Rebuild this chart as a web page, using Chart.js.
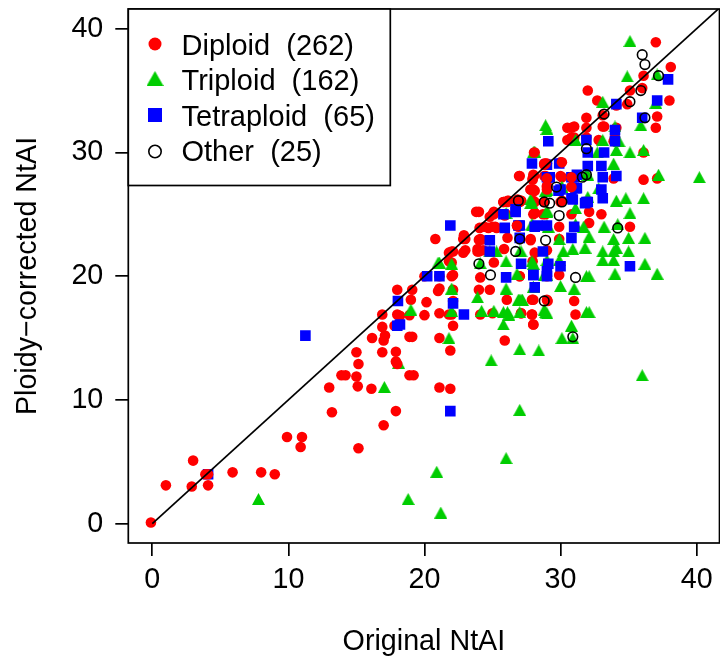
<!DOCTYPE html>
<html lang="en">
<head>
<meta charset="UTF-8">
<title>Ploidy-corrected NtAI</title>
<script src="https://cdn.jsdelivr.net/npm/chart.js"></script>
<style>
  html, body { margin: 0; padding: 0; background: #fff; }
  canvas { display: block; }
</style>
</head>
<body>
<canvas id="chart" width="720" height="656"></canvas>
<script>
// values, [original, corrected]
const diploid = [
  [-0.1,0.1],[1,3.1],[3,5.1],[2.9,3],[4.1,3.1],[5.9,4.15],[8,4.15],[9,4],[9.9,7],[11,7],[10.9,6.2],[15.15,6.1],
  [13.2,9],[13,11],[17,7.95],[17.9,9.1],[16.1,10.9],[15.1,11.1],[15,11.9],[13.9,12],[14.2,12],[15.15,12.9],[15,13.85],
  [16.9,13.85],[17.9,13.9],[18.9,12],[19.2,12],[16.15,15],[17,14.8],[17.1,15.2],[18.9,15.1],[19.1,15.1],[16.9,15.9],
  [17.8,16],[16.9,16.9],[18,16.9],[18.2,16.8],[18.9,16.85],[20,16.85],[19,18.1],[20.15,17.9],[18,18.9],[19.1,18.9],
  [21.1,11],[21.9,10.9],[25.9,14.8],[23.8,25.2],[20.8,23],[22.9,23.3],[23,23],[24,22.95],[24.1,23],[24,22],[23.9,22],
  [22,22],[21.8,21.9],[23,22.1],[22.85,21.9],[25.85,22.2],[25.1,21.1],[26.1,23.1],[27.8,22.9],[28.1,21.9],[22,21.1],
  [21.8,21.2],[20,20],[21.1,20],[22,20],[22.1,20.1],[24.1,19.9],[27,20],[21.1,19],[21,18.8],[22.1,18.9],[24,18.9],
  [24.8,18.9],[22.1,18],[26.05,18.1],[28,18.1],[29.05,18],[21.1,17],[21.8,16.9],[22,16.9],[24.1,16.9],[25,17],[27.1,17],
  [27.9,16.9],[22.1,16],[28,16.1],[21.1,15],[21.9,14],[25,25],[25.1,25],[25.8,26],[26.1,26],[26,25],[25.9,24.9],
  [26.9,26.1],[26.9,26],[28,27],[28.1,26.9],[28.1,25.1],[28.8,26],[29,27.3],[26.9,24],[24.05,23.9],[25,24],[25.2,24],
  [25.3,23.9],[24.7,23.9],[37,38.9],[38.1,36.9],[36.1,36.2],[35.1,35],[36,35.2],[32,35],[32.7,34.2],[34.9,33.9],
  [38,34.2],[34.1,33.8],[33.1,33],[37.1,32.9],[37,32],[31.9,32.8],[31,32.1],[30.8,32],[31.9,32],[33.1,32.1],[33.2,32.1],
  [34.1,32],[30.8,31.2],[31,31.2],[31.9,31.2],[32.8,31],[34,31.2],[33.9,30.9],[28.1,30],[36.1,30],[29,29.1],[28.8,29.1],
  [30,29.2],[28.8,28.1],[29,28],[30.1,28],[30.8,28],[29,27.2],[30.8,27.2],[28,26.9],[33.9,27.9],[36.1,27.8],[37.1,27.9],
  [27,28.1],[28,28.2],[27.95,27.9],[30,28.1],[27.8,27],[27,26],[27.1,26.1],[30.1,26.1],[28,25],[28.1,25.1],[28.7,25],
  [28.9,25],[30.8,25],[32.1,25.2],[33,25],[26.8,24.1],[29.9,24],[32.1,24.3],[35.1,24],[27.8,23],[29.9,23],[29,22.1],
  [27.95,21.2],[27,20],[29,20],[29.9,20.1],[27.9,18.1],[29,18.1],[31,18],[27.1,17],[27.9,16.9],[31.1,16.9],[28,16.1],
  [26.95,28.1],[28.05,28.1],[28.9,28.1],[30.5,32],[30.5,31],[25.8,26],[26.1,26.1],[26.85,26.2],[27.1,26.1],[28,26.1],
  [28.1,26],[24,25.2],[25.1,25.2],[24.8,24.8],[24.4,24],[24.2,22.95],[23.9,22.2],[24.3,22.1],[26.2,26.1],[22.85,23],[22.1,22]
];
// the reds that sit over the other marks in the picture
const diploidOver = [
  [3.9,4],[4.1,4],[18,12.9],[17.9,13.1],[28.05,30],[28.9,29.1],[28.8,29],[30.1,29.2],[29.05,27.2],[29,27],[27.8,27],
  [28.05,26.9],[27.95,27.8],[29,27.9],[30.8,28],[30.8,27.2],[26.8,24.1],[28.8,26],[30,26]
];
const triploid = [
  [7.8,2],[18.8,2],[17.05,11.05],[18.1,13],[19,17.3],[20.9,4.2],[21.2,0.9],[26,5.3],[27,9.2],[36,12],[24.9,13.2],
  [28.4,14],[35.1,39],[34.9,36.15],[37.1,36.3],[33.1,34.1],[35.9,32.2],[37,34],[28.9,32.2],[29,31.9],[34,32.1],
  [31.1,31],[33.1,31],[34.3,30.9],[28,30],[34.1,30.2],[35.1,30],[36.1,30.2],[32.7,30],[33.9,29.1],[32,28.2],[31.9,28.3],
  [37.2,28.2],[40.2,28],[32.8,27.1],[30.1,27.2],[29,27],[32,26.4],[34.1,26.1],[34.8,26.3],[36.1,26.3],[28.1,30],
  [31.1,25.5],[35.1,25.1],[27.8,25.9],[29,25.3],[27.9,24.2],[29,24.1],[29.1,24],[31.1,24.2],[31.7,24],[33.2,24],
  [34.2,24.2],[32.1,23.2],[33.9,23],[35,23.1],[36.2,23.1],[29.9,23],[31.8,22.3],[30.9,22.2],[30.2,22],[34.1,22.3],
  [33.1,22],[35,22],[33.9,22],[27,22],[29,21.3],[29.9,21.3],[28,21],[33.1,21.3],[33.9,21.3],[36.2,21],[34,20.2],
  [37.1,20.2],[31.9,20],[32.1,20],[28.8,20.1],[30,19.2],[28,19.1],[31,19],[27,18.1],[27.1,18.1],[27,17.1],[28.9,17.1],
  [29,17],[31.9,17.1],[32.1,17.1],[26.2,16.9],[30.8,16],[30.1,15],[30.9,15],[27,14.1],[21,21.1],[21.1,21.1],[22,21],
  [24.8,22],[25.3,22],[26,21.2],[27.1,22],[27.9,21.2],[24.1,21.05],[26.8,20.2],[29,20.1],[22,19],[26,19],[28,19.1],
  [23.9,18.3],[26.9,18.1],[27.2,18.1],[22,17.2],[24.2,17.2],[25.1,17.2],[25.8,17.1],[26.1,17.1],[28.8,17.3],[25.8,16.1],
  [21.8,15],[27.8,26.2],[29,25.2],[27.9,24.1],[26,25.1],[28.9,26.9],[30.1,27.2],[27.9,25.9],[28.1,30]
];
const tetraploid = [
  [4.1,4],[11.25,15.2],[18.05,18],[18,16],[18.2,16.1],[21.9,9.1],[37.9,35.9],[37.1,34.2],[34.1,33.9],[36,32.8],[29.1,30.9],
  [34,31.8],[31.9,31],[34,30.9],[32,30],[33.2,30],[27.9,29.1],[29.9,29.1],[29,29],[32,28.9],[33,28.9],[29.2,28],[30.8,28],
  [31,28],[34.1,28.1],[33.1,28],[31.1,27.1],[29.85,26.9],[33,27],[30.8,26.3],[33.1,26.3],[31.9,26],[31.2,28.2],[29,28],
  [31.2,27.1],[30.9,26.2],[32,26],[31.8,25.9],[26.7,25.2],[27,24.1],[28.1,24],[29,24.1],[31,24],[30.8,23.1],[27,23.1],
  [28.7,22],[27.1,21],[29.1,21],[30,20.8],[29,20.4],[29,20],[28,20.1],[35.1,20.8],[28.1,19.1],[21.9,24.1],[25.8,25],
  [25.9,23.9],[26.9,24.1],[24.8,22.9],[24.8,22],[20.2,20],[21.1,20],[26,19.9],[28,20.1],[22.1,17.8],[22.9,16.9],[30,27],
  [28.3,24.1],[26.7,25.4],[29.2,28],[31,28]
];
const other = [
  [36,37.9],[36.2,37.1],[37.2,36.2],[35.9,35],[35.1,34.1],[33.2,33.1],[36.2,32.8],[31.9,30.3],[31.6,28],[29.7,27.2],
  [28.8,26],[30.1,26],[26.9,26.1],[29.2,25.9],[29.9,24.9],[34.2,23.9],[27,23],[28.9,22.9],[26.7,22],[31.1,19.9],[28.8,18],
  [30.9,15.1],[31.9,28.2],[24,21],[24.85,20.1]
];
const diagonal = [[0,0],[41.7,41.7]];
const legendLabels = ['Diploid  (262)', 'Triploid  (162)', 'Tetraploid  (65)', 'Other  (25)'];
const xLabel = 'Original NtAI';
const yLabel = 'Ploidy\u2212corrected NtAI';

const FONT = '"Liberation Sans", Arial, sans-serif';
const RED = '#ff0000', GREEN = '#00cd00', BLUE = '#0000ff';

function toPoints(list) {
  return list.map(p => ({ x: p[0], y: p[1] }));
}

// triangle image centred on its box, the built in one sits too low
function triangleImage(w, h) {
  const c = document.createElement('canvas');
  c.width = w;
  c.height = h;
  const g = c.getContext('2d');
  g.fillStyle = GREEN;
  g.beginPath();
  g.moveTo(w / 2, 0);
  g.lineTo(w, h);
  g.lineTo(0, h);
  g.closePath();
  g.fill();
  return c;
}

const frame = {
  id: 'frame',
  afterDatasetsDraw(chart) {
    const ctx = chart.ctx, a = chart.chartArea;
    ctx.save();
    ctx.strokeStyle = '#000';
    ctx.lineWidth = 1.7;
    ctx.strokeRect(a.left, a.top, a.right - a.left, a.bottom - a.top);

    // legend box
    ctx.fillStyle = '#fff';
    ctx.fillRect(a.left, a.top, 262, 176.5);
    ctx.strokeRect(a.left, a.top, 262, 176.5);

    const marks = [
      { pointStyle: 'circle', radius: 6.5, borderWidth: 0, fill: RED, y: 44 },
      { pointStyle: triangleImage(17, 15), radius: 8, borderWidth: 0, fill: GREEN, y: 78.5 },
      { pointStyle: 'rect', radius: 9.9, borderWidth: 0, fill: BLUE, y: 115 },
      { pointStyle: 'circle', radius: 6.2, borderWidth: 1.6, fill: 'transparent', y: 151.5 }
    ];
    const baselines = [55, 90.3, 125.6, 161];
    marks.forEach((m, i) => {
      ctx.fillStyle = m.fill;
      ctx.strokeStyle = '#000';
      ctx.lineWidth = m.borderWidth;
      Chart.helpers.drawPoint(ctx, m, 155, m.y);
      ctx.fillStyle = '#000';
      ctx.font = '29px ' + FONT;
      ctx.textAlign = 'left';
      ctx.textBaseline = 'alphabetic';
      ctx.fillText(legendLabels[i], 181.5, baselines[i]);
    });
    ctx.restore();
  }
};

new Chart(document.getElementById('chart'), {
  type: 'scatter',
  data: {
    datasets: [
      { type: 'line', data: toPoints(diagonal), borderColor: '#000', borderWidth: 1.7, pointRadius: 0, fill: false },
      { data: toPoints(other), pointStyle: 'circle', pointRadius: 4.8, pointBackgroundColor: 'transparent', pointBorderColor: '#000', pointBorderWidth: 1.6 },
      { data: toPoints(diploidOver), pointStyle: 'circle', pointRadius: 5.3, pointBackgroundColor: RED, pointBorderWidth: 0 },
      { data: toPoints(tetraploid), pointStyle: 'rect', pointRadius: 7.5, pointBackgroundColor: BLUE, pointBorderWidth: 0 },
      { data: toPoints(triploid), pointStyle: triangleImage(13, 12), pointBackgroundColor: GREEN, pointBorderWidth: 0 },
      { data: toPoints(diploid), pointStyle: 'circle', pointRadius: 5.3, pointBackgroundColor: RED, pointBorderWidth: 0 }
    ]
  },
  options: {
    responsive: false,
    animation: false,
    devicePixelRatio: 1,
    layout: { autoPadding: false, padding: { top: 9, right: 0.5 } },
    plugins: { legend: { display: false }, tooltip: { enabled: false } },
    font: { family: FONT },
    scales: {
      x: {
        min: -1.763,
        max: 41.68,
        afterFit(s) { s.height = 113; s.paddingLeft = 0; s.paddingRight = 0; },
        grid: { drawOnChartArea: false, color: '#000', lineWidth: 1.7, tickLength: 13 },
        border: { display: false },
        title: { display: true, text: xLabel, color: '#000', padding: { top: 0, bottom: 0 }, font: { family: FONT, size: 28.7, lineHeight: 1 } },
        ticks: { stepSize: 10, includeBounds: false, maxRotation: 0, padding: 10, color: '#000', font: { family: FONT, size: 28.7, lineHeight: 1 } }
      },
      y: {
        min: -1.56,
        max: 41.59,
        afterFit(s) { s.width = 128.3; s.paddingTop = 0; s.paddingBottom = 0; },
        grid: { drawOnChartArea: false, color: '#000', lineWidth: 1.7, tickLength: 13 },
        border: { display: false },
        title: { display: true, text: yLabel, color: '#000', padding: { top: 14, bottom: 0 }, font: { family: FONT, size: 28.7, lineHeight: 1 } },
        ticks: { stepSize: 10, includeBounds: false, padding: 12, color: '#000', font: { family: FONT, size: 28.7, lineHeight: 1 } }
      }
    }
  },
  plugins: [frame]
});
</script>
</body>
</html>
